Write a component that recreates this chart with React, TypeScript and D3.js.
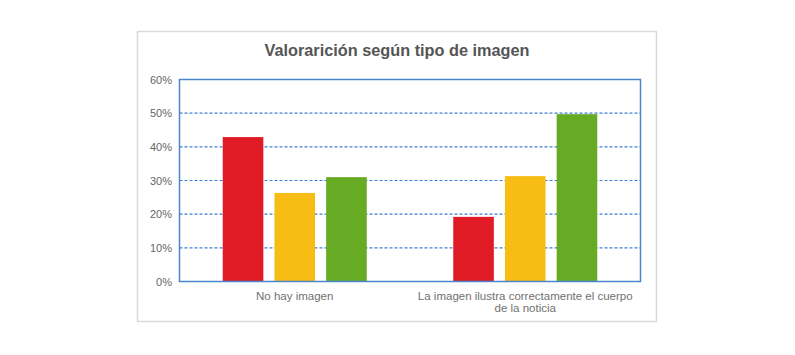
import { useEffect, useRef } from 'react';
import * as d3 from 'd3';

const categories = ['No hay imagen', 'La imagen ilustra correctamente el cuerpo de la noticia'];
const categoryLines = [['No hay imagen'], ['La imagen ilustra correctamente el cuerpo', 'de la noticia']];
const seriesNames = ['s1', 's2', 's3'];
const seriesColors = ['#e01b25', '#f7bd15', '#67ab24'];
const values = [
  [0.429, 0.263, 0.31],
  [0.192, 0.313, 0.497],
];
const yTicks = [0, 0.1, 0.2, 0.3, 0.4, 0.5, 0.6];

export default function App() {
  const svgRef = useRef<SVGSVGElement>(null);

  useEffect(() => {
    if (!svgRef.current) return;
    const width = 795;
    const height = 355;
    const plot = { left: 179.5, right: 640.5, top: 79.5, bottom: 281.5 };

    const svg = d3.select(svgRef.current);
    svg.selectAll('*').remove();

    svg.append('rect')
      .attr('x', 137.5).attr('y', 31.5).attr('width', 519).attr('height', 290)
      .attr('fill', '#fff').attr('stroke', '#d9d9d9').attr('stroke-width', 1.5);

    svg.append('text')
      .attr('x', 397).attr('y', 56)
      .attr('text-anchor', 'middle')
      .attr('font-family', 'Liberation Sans, Arial, sans-serif')
      .attr('font-weight', 'bold').attr('font-size', 16.3)
      .attr('fill', '#555')
      .text('Valorarición según tipo de imagen');

    const x0 = d3.scaleBand<string>().domain(categories).range([plot.left, plot.right]);
    const x1 = d3.scaleBand<string>().domain(seriesNames).range([0, 144]).paddingInner(0.215);
    const y = d3.scaleLinear().domain([0, 0.6]).range([plot.bottom, plot.top]);

    const g = svg.append('g');

    g.selectAll('line.grid')
      .data(yTicks.filter(t => t > 0 && t < 0.6))
      .join('line')
      .attr('class', 'grid')
      .attr('x1', plot.left).attr('x2', plot.right)
      .attr('y1', d => y(d)).attr('y2', d => y(d))
      .attr('stroke', '#3f7fcf').attr('stroke-width', 1.2)
      .attr('stroke-dasharray', '3,2');

    categories.forEach((c, i) => {
      const start = (x0(c) as number) + (x0.bandwidth() - 144) / 2;
      g.selectAll(`rect.bar${i}`)
        .data(values[i])
        .join('rect')
        .attr('x', (_d, j) => start + (x1(seriesNames[j]) as number))
        .attr('width', x1.bandwidth())
        .attr('y', d => y(d))
        .attr('height', d => y(0) - y(d))
        .attr('fill', (_d, j) => seriesColors[j]);
    });

    g.append('rect')
      .attr('x', plot.left).attr('y', plot.top)
      .attr('width', plot.right - plot.left).attr('height', plot.bottom - plot.top)
      .attr('fill', 'none').attr('stroke', '#4a86cc').attr('stroke-width', 1.5);

    g.selectAll('text.ytick')
      .data(yTicks)
      .join('text')
      .attr('class', 'ytick')
      .attr('x', 172).attr('y', d => y(d) + 4)
      .attr('text-anchor', 'end')
      .attr('font-family', 'Liberation Sans, Arial, sans-serif')
      .attr('font-size', 11).attr('fill', '#666')
      .text(d => d3.format('.0%')(d));

    categories.forEach((c, i) => {
      const cx = (x0(c) as number) + x0.bandwidth() / 2;
      const t = g.append('text')
        .attr('text-anchor', 'middle')
        .attr('font-family', 'Liberation Sans, Arial, sans-serif')
        .attr('font-size', 11.5).attr('fill', '#707070');
      categoryLines[i].forEach((line, k) => {
        t.append('tspan').attr('x', cx).attr('y', 300 + k * 12).text(line);
      });
    });

    svg.attr('width', width).attr('height', height);
  }, []);

  return (
    <svg ref={svgRef} width={795} height={355}
      style={{ position: 'absolute', left: 0, top: 0, background: '#fff' }} />
  );
}
